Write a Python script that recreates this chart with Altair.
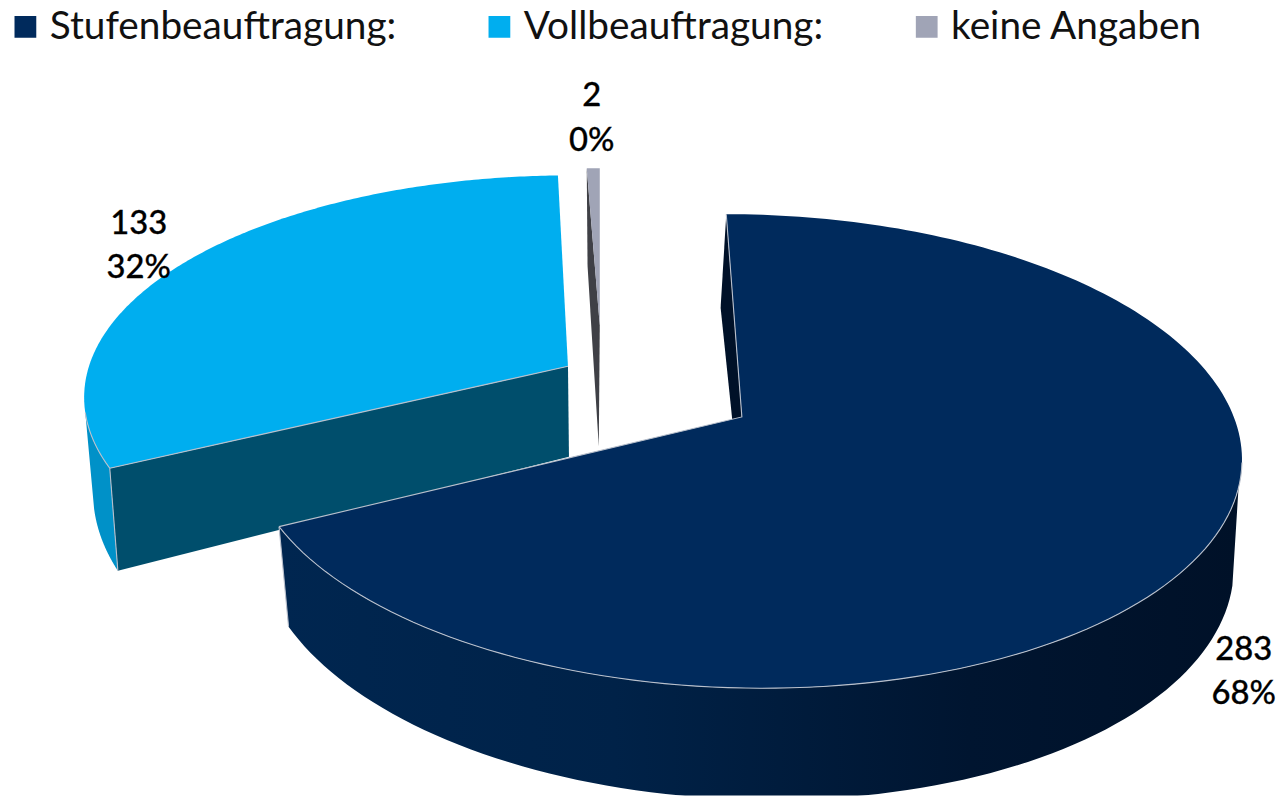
import math
import altair as alt
import pandas as pd

# --- chart values ---
categories = ["Stufenbeauftragung:", "Vollbeauftragung:", "keine Angaben"]
counts = [283, 133, 2]
top_colors = ["#002A5C", "#00AEEF", "#A0A4B6"]
START_ANGLE = 0

total = sum(counts)
percents = [f"{round(100 * c / total)}%" for c in counts]
sweeps = [360 * c / total for c in counts]
starts = [START_ANGLE + sum(sweeps[:i]) for i in range(len(counts))]

# perspective disc parameters for each exploded slice (apex x, y, a, b, q, skew)
GEOM = {
    "main_top": (742, 417, 495, 233.5, 0.1447, -18),
    "main_bot": (742, 513, 483, 240.5, 0.169, -25),
    "blue_top": (567, 366, 482, 218, 0.135, 3),
    "blue_bot": (568, 457, 474, 244, 0.135, 4),
    "gray_top": (599, 325, 480, 174, 0.10, 0),
    "gray_bot": (598, 447, 480, 200, 0.10, 2),
}


def pt(geom, theta):
    cx, cy, a, b, q, s = GEOM[geom]
    t = math.radians(theta)
    u, v = math.sin(t), math.cos(t)
    w = 1 + q * v
    return cx + (a * u + s * v) / w, cy - b * v / w


def arc(geom, t0, t1, n=90):
    return [pt(geom, t0 + (t1 - t0) * i / n) for i in range(n + 1)]


def apex(geom):
    return (GEOM[geom][0], GEOM[geom][1])


def frame(points, name=""):
    return pd.DataFrame(
        {"x": [p[0] for p in points], "y": [p[1] for p in points],
         "i": range(len(points)), "part": name}
    )


s0, s1, s2 = starts
e0, e1, e2 = [st + sw for st, sw in zip(starts, sweeps)]

X = alt.X("x:Q", axis=None, scale=alt.Scale(domain=[3.5, 1282.5], nice=False, zero=False))
Y = alt.Y("y:Q", axis=None, scale=alt.Scale(domain=[798, 8], nice=False, zero=False))


def poly(points, fill):
    return alt.Chart(frame(points)).mark_line(
        filled=True, fill=fill, clip=True, strokeWidth=0, interpolate="linear"
    ).encode(x=X, y=Y, order="i:Q")


def edge(points):
    return alt.Chart(frame(points)).mark_line(
        color="#B9C0CC", strokeWidth=1.1, clip=True
    ).encode(x=X, y=Y, order="i:Q")


wall_gradient = alt.Gradient(
    gradient="linear", x1=0, x2=1, y1=0, y2=0,
    stops=[
        alt.GradientStop(offset=0, color="#002650"),
        alt.GradientStop(offset=0.35, color="#002248"),
        alt.GradientStop(offset=0.72, color="#001530"),
        alt.GradientStop(offset=1, color="#001128"),
    ],
)

layers = []
# small slice wall
layers.append(poly([pt("gray_top", s2), pt("gray_bot", s2), apex("gray_bot"), apex("gray_top")], "#3F4046"))
# light blue walls
layers.append(poly(arc("blue_top", s1, 258) + arc("blue_bot", 258, s1), "#0091C8"))
layers.append(poly([pt("blue_top", s1), pt("blue_bot", s1), apex("blue_bot"), apex("blue_top")], "#004E6C"))
# main walls
layers.append(poly([pt("main_top", s0), pt("main_bot", s0), apex("main_bot"), apex("main_top")], "#001128"))
layers.append(poly(arc("main_top", 107, e0) + arc("main_bot", e0, 107), wall_gradient))

# top faces (carry the legend)
tops = []
for name, key, st, en in [(categories[0], "main_top", s0, e0),
                          (categories[1], "blue_top", s1, e1),
                          (categories[2], "gray_top", s2, e2)]:
    f = frame([apex(key)] + arc(key, st, en, 200), name)
    tops.append(f)
layers.append(
    alt.Chart(pd.concat(tops)).mark_line(filled=True, clip=True, strokeWidth=0).encode(
        x=X, y=Y, order="i:Q",
        color=alt.Color(
            "part:N",
            scale=alt.Scale(domain=categories, range=top_colors),
            legend=alt.Legend(
                title=None, orient="none", legendX=-2, legendY=-3, direction="horizontal",
                columns=3, gridAlign="none", columnPadding=84, symbolType="square",
                symbolSize=480, symbolStrokeWidth=0, labelFont="Lato", labelFontSize=39,
                labelColor="#111111", labelOffset=5, labelLimit=500, symbolOffset=0,
            ),
        ),
    )
)

# light edges
layers.append(edge(arc("main_top", 101, e0)))
layers.append(edge([pt("main_top", e0), apex("main_top"), pt("main_top", s0)]))
layers.append(edge([pt("main_top", e0), pt("main_bot", e0)]))
layers.append(edge(arc("blue_top", s1, 258)))
layers.append(edge([pt("blue_top", s1), apex("blue_top")]))
layers.append(edge([pt("blue_top", s1), pt("blue_bot", s1)]))

# data labels (two lines each)
anchors = [(1247, 652, 696), (135, 223, 267), (591, 94, 139)]
label_rows = []
for c, p, (lx, y1, y2) in zip(counts, percents, anchors):
    label_rows.append({"x": lx, "y": y1, "t": str(c)})
    label_rows.append({"x": lx, "y": y2, "t": p})
layers.append(
    alt.Chart(pd.DataFrame(label_rows)).mark_text(
        font="Lato", fontSize=33, fontWeight=500, color="#000000", align="center", baseline="middle",
        stroke="#000000", strokeWidth=0.3,
    ).encode(x=X, y=Y, text="t:N")
)

chart = alt.layer(*layers).properties(
    width=1279, height=790, padding=0, autosize=alt.AutoSizeParams(type="none"),
).configure_view(stroke=None)

chart.save("out.html", embed_options={"renderer": "svg", "actions": False})
